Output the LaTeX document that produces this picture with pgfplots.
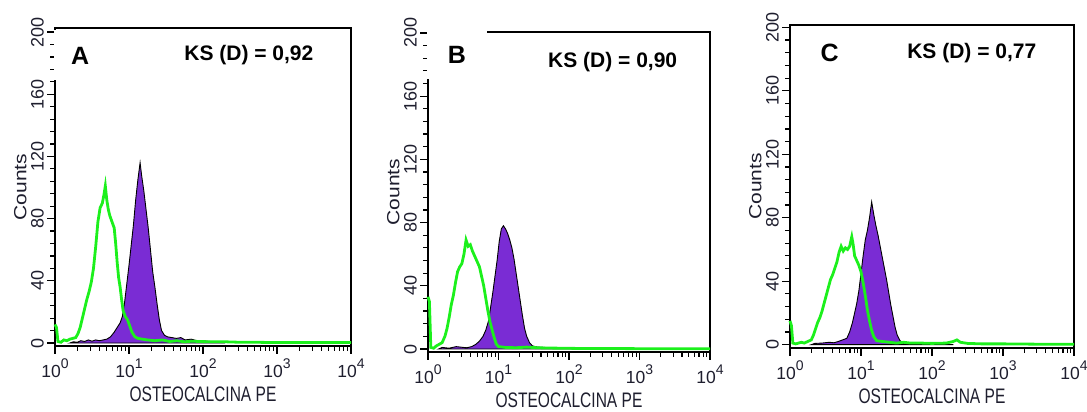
\documentclass[border=0pt]{standalone}
\usepackage{fontspec}
\setmainfont{Liberation Sans}
\usepackage{graphicx}
\usepackage{pgfplots}
\pgfplotsset{compat=1.18}

\definecolor{histpurple}{HTML}{7A2CD4}
\definecolor{histgreen}{HTML}{1CF01C}
\definecolor{labelink}{HTML}{1E1E2E}

% decade tick label 10^n set in the text font
\newcommand\dec[1]{10\raisebox{0.5em}{\fontsize{14}{14}\selectfont #1}}

\tikzset{
  panelletter/.style={font=\bfseries\fontsize{25}{25}\selectfont},
  kslabel/.style={font=\bfseries\fontsize{21}{21}\selectfont},
}

\pgfplotsset{
  flowhist/.style={
    scale only axis,
    clip=false,
    xmin=0, xmax=4,
    axis line style={line width=1.6pt},
    xtick={0,1,2,3,4},
    xticklabels={\dec{0},\dec{1},\dec{2},\dec{3},\dec{4}},
    minor xtick={0.30103,0.47712,0.60206,0.69897,0.77815,0.84510,0.90309,0.95424,
                 1.30103,1.47712,1.60206,1.69897,1.77815,1.84510,1.90309,1.95424,
                 2.30103,2.47712,2.60206,2.69897,2.77815,2.84510,2.90309,2.95424,
                 3.30103,3.47712,3.60206,3.69897,3.77815,3.84510,3.90309,3.95424},
    ytick={0,40,80,120,160,200},
    yticklabels={0,40,80,120,160,200},
    minor y tick num=4,
    tick align=outside,
    tick pos=left,
    major tick length=8pt,
    minor tick length=5pt,
    every tick/.style={line width=1.3pt, black},
    every minor tick/.style={line width=1.2pt, black},
    xticklabel style={font=\fontsize{17.5}{17.5}\selectfont, text=labelink, inner sep=2pt, yshift=-3pt},
    yticklabel style={font=\fontsize{18}{18}\selectfont, text=labelink, rotate=90, anchor=south, inner sep=3pt},
    xlabel={\scalebox{0.74}[1]{OSTEOCALCINA PE}},
    ylabel={\scalebox{1}[0.84]{Counts}},
    label style={font=\fontsize{21}{21}\selectfont, text=labelink},
    xlabel style={yshift=-3pt},
    ylabel style={yshift=-2pt},
  },
  posfill/.style={draw=black, line width=0.9pt, fill=histpurple},
  isotype/.style={histgreen, line width=2.8pt},
}

\begin{document}
\begin{tikzpicture}
\path[use as bounding box] (0,0) rectangle (1087pt,412pt);

% ---------------- Panel A ----------------
\begin{axis}[flowhist, at={(55pt,66pt)}, anchor=south west,
  width=296pt, height=318pt, ymin=-1.9, ymax=202.6]
\addplot[posfill] table {
0.20 0
0.25 0.8
0.30 0.5
0.35 1.5
0.40 1
0.45 2
0.50 1.2
0.55 2
0.60 1.5
0.65 2
0.70 2.5
0.75 4
0.80 7
0.84 10
0.88 13
0.91 17
0.94 26
0.97 38
1.00 50
1.03 63
1.06 76
1.09 92
1.12 105
1.15 116
1.17 108
1.20 98
1.23 86
1.26 74
1.29 60
1.32 46
1.35 36
1.38 25
1.41 15
1.44 8
1.48 5
1.52 4
1.58 3.5
1.64 3
1.70 3.5
1.76 2
1.84 2.5
1.92 1.5
2.00 1.5
2.10 1
2.20 0.5
2.30 0
} \closedcycle;
\addplot[isotype] table {
0.00 12
0.02 10
0.04 1
0.08 0.5
0.12 2
0.16 1.5
0.20 2.5
0.24 3
0.28 3.5
0.31 6
0.34 10
0.37 16
0.40 22
0.43 28
0.46 33
0.49 39
0.52 48
0.55 62
0.58 78
0.61 87
0.64 90
0.66 95
0.68 101
0.70 92
0.72 86
0.74 82
0.77 78
0.80 74
0.82 64
0.84 52
0.86 42
0.88 36
0.90 28
0.92 21
0.95 17
0.98 15
1.01 11
1.04 7
1.08 4
1.12 3
1.18 2.5
1.25 2
1.35 1.5
1.45 2
1.55 1
1.65 1.5
1.75 0.8
1.85 1.2
1.95 1
2.10 0.8
2.30 0.8
2.50 0.5
2.70 0.5
3.00 0.3
3.50 0.3
4.00 0.3
};
\draw[white, line width=2.4pt] (axis cs:0,169) -- (axis cs:0,201.5);
\node[panelletter] at (axis cs:0.34,184.6) {A};
\node[kslabel] at (axis cs:2.62,185) {KS (D) = 0,92};
\end{axis}

% ---------------- Panel B ----------------
\begin{axis}[flowhist, at={(428pt,60pt)}, anchor=south west,
  width=282pt, height=320pt, ymin=-1.9, ymax=200.6]
\addplot[posfill] table {
0.15 0
0.20 1
0.30 0.5
0.40 1.5
0.50 1
0.55 0.8
0.62 1.5
0.68 3
0.73 5
0.78 8
0.82 12
0.86 18
0.89 27
0.92 36
0.95 46
0.98 56
1.01 68
1.04 76
1.07 78
1.10 76
1.13 73
1.16 69
1.19 64
1.22 57
1.25 48
1.28 39
1.31 30
1.34 21
1.37 13
1.40 8
1.44 4
1.48 2
1.55 1.2
1.65 1
1.75 0.8
1.85 0.5
1.95 0.8
2.05 0.3
2.20 0
} \closedcycle;
\addplot[isotype] table {
0.00 33
0.02 30
0.04 1
0.08 0.5
0.12 2
0.16 3
0.20 4
0.24 8
0.27 13
0.30 20
0.33 28
0.36 34
0.39 42
0.42 49
0.45 52
0.48 54
0.51 60
0.54 69
0.57 65
0.60 66
0.63 62
0.66 59
0.70 55
0.73 52
0.76 46
0.79 40
0.82 32
0.85 24
0.88 17
0.91 12
0.94 7
0.97 3
1.00 1.5
1.10 1
1.25 0.8
1.40 1.2
1.55 0.8
1.70 0.6
1.90 0.5
2.20 0.3
2.60 0.3
3.00 0.2
4.00 0.2
};
\draw[white, line width=2.4pt] (axis cs:0,171) -- (axis cs:0,200.6) -- (axis cs:0.84,200.6);
\node[panelletter] at (axis cs:0.41,186) {B};
\node[kslabel] at (axis cs:2.62,181.6) {KS (D) = 0,90};
\end{axis}

% ---------------- Panel C ----------------
\begin{axis}[flowhist, at={(790pt,64pt)}, anchor=south west,
  width=284pt, height=323pt, ymin=-2.1, ymax=201.5]
\addplot[posfill] table {
0.30 0
0.35 0.8
0.45 1
0.55 1.5
0.62 1.2
0.68 2
0.74 3
0.80 4
0.84 8
0.88 14
0.91 20
0.94 26
0.97 34
1.00 45
1.03 56
1.06 66
1.09 72
1.12 80
1.15 90
1.18 82
1.21 75
1.24 69
1.27 62
1.30 55
1.33 48
1.36 41
1.39 33
1.42 25
1.45 18
1.48 11
1.51 6
1.55 2.5
1.60 1
1.70 0.5
1.80 0.5
2.00 0.3
2.30 0
} \closedcycle;
\addplot[isotype] table {
0.00 15
0.02 12
0.04 1
0.08 0.5
0.12 1
0.16 1.5
0.20 1
0.25 2
0.30 3
0.33 6
0.36 10
0.39 14
0.42 17
0.45 21
0.48 26
0.51 31
0.54 36
0.57 41
0.60 44
0.63 48
0.66 52
0.69 58
0.72 62
0.75 59
0.78 61
0.81 60
0.84 62
0.87 68
0.89 63
0.91 56
0.94 53
0.97 50
1.00 46
1.03 39
1.06 31
1.09 22
1.12 15
1.15 9
1.18 5
1.22 2.5
1.30 2
1.40 1.5
1.50 1
1.60 1.5
1.70 1
1.85 1
2.00 0.8
2.20 1
2.30 2
2.35 3
2.40 1.5
2.50 0.8
2.70 0.5
3.00 0.5
3.50 0.3
4.00 0.3
};
\node[panelletter] at (axis cs:0.56,183.6) {C};
\node[kslabel] at (axis cs:2.56,183.6) {KS (D) = 0,77};
\end{axis}
\end{tikzpicture}
\end{document}
